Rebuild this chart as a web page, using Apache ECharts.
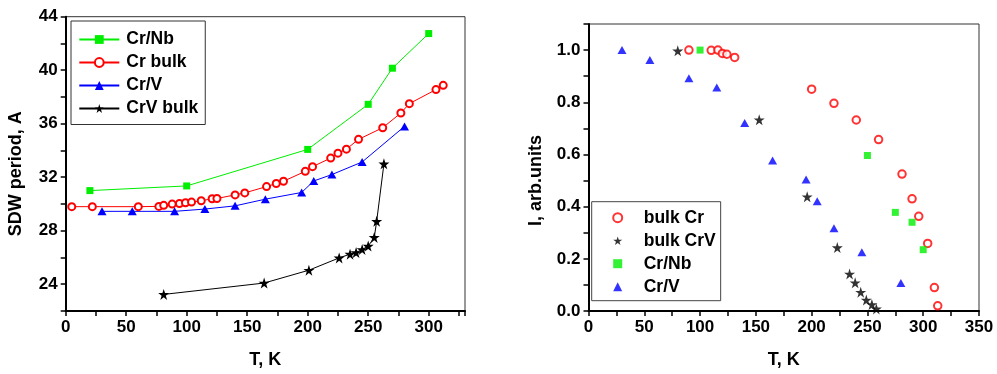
<!DOCTYPE html>
<html>
<head>
<meta charset="utf-8">
<script src="https://cdn.jsdelivr.net/npm/echarts@6/dist/echarts.min.js"></script>
<style>
  html, body { margin: 0; padding: 0; background: #fff; }
  #chart { width: 997px; height: 374px; }
</style>
</head>
<body>
<div id="chart"></div>
<script>
// left panel: SDW period (A) vs T (K)
const crNbPeriod = [[20, 31.0], [100, 31.35], [200, 34.08], [250, 37.45], [270, 40.15], [300, 42.74]];
const crBulkPeriod = [
  [5, 29.8], [22, 29.8], [60, 29.8], [77, 29.82], [81, 29.9], [88, 29.99], [94, 30.04],
  [99, 30.09], [104, 30.14], [112, 30.24], [121, 30.39], [125, 30.41], [140, 30.68],
  [148, 30.83], [166, 31.3], [174, 31.53], [180, 31.7], [198, 32.44], [204, 32.79],
  [219, 33.43], [225, 33.8], [232, 34.1], [242, 34.83], [262, 35.7], [277, 36.8],
  [284, 37.5], [306, 38.55], [312, 38.87]
];
const crVPeriod = [
  [30, 29.45], [55, 29.45], [90, 29.45], [115, 29.62], [140, 29.86], [165, 30.36],
  [195, 30.86], [205, 31.72], [220, 32.2], [245, 33.14], [280, 35.8]
];
const crVBulkPeriod = [
  [81, 23.24], [164, 24.09], [201, 25.05], [226, 25.97], [235, 26.25], [240, 26.37],
  [245, 26.6], [250, 26.85], [255, 27.5], [257, 28.7], [263, 33.0]
];

// right panel: intensity (arb. units) vs T (K)
const bulkCrInt = [
  [90, 1.0], [110, 0.999], [116, 1.0], [120, 0.987], [124, 0.984], [131, 0.972],
  [200, 0.85], [220, 0.796], [240, 0.732], [260, 0.657], [281, 0.525], [290, 0.43],
  [296, 0.363], [304, 0.259], [310, 0.09], [313, 0.02]
];
const bulkCrVInt = [
  [80, 0.997], [153, 0.733], [196, 0.438], [223, 0.243], [234, 0.142], [239, 0.108],
  [244, 0.072], [249, 0.042], [254, 0.025], [258, 0.008]
];
const crNbInt = [[100, 1.0], [250, 0.596], [275, 0.378], [290, 0.34], [300, 0.235]];
const crVInt = [
  [30, 1.0], [55, 0.962], [90, 0.892], [115, 0.857], [140, 0.721], [165, 0.577],
  [195, 0.504], [205, 0.421], [220, 0.317], [245, 0.225], [280, 0.107]
];

const STAR = 'path://M50,0L61.8,36.2L100,36.2L69.1,58.6L80.9,95.1L50,72.7L19.1,95.1L30.9,58.6L0,36.2L38.2,36.2Z';
const FONT = '"Liberation Sans", Arial, sans-serif';
const GREEN = '#00ee00', RED = '#ff0000', BLUE = '#0000ff', BLACK = '#000000';

const chart = echarts.init(document.getElementById('chart'));

function axis(gridIndex, min, max, interval, labelFn, extra) {
  return Object.assign({
    type: 'value',
    gridIndex: gridIndex,
    min: min,
    max: max,
    interval: interval,
    axisLine: { show: true, onZero: false, lineStyle: { color: '#000', width: 2 } },
    axisTick: { show: true, inside: false, length: 5, lineStyle: { color: '#000', width: 1.5 } },
    axisLabel: {
      color: '#000', fontSize: 17, fontWeight: 'bold', fontFamily: FONT, margin: 8,
      formatter: labelFn
    },
    splitLine: { show: false },
    nameLocation: 'middle',
    nameTextStyle: { color: '#000', fontSize: 18, fontWeight: 'bold', fontFamily: FONT }
  }, extra);
}

const every50 = v => (v % 50 === 0 ? String(v) : '');
const every4 = v => (v % 4 === 0 ? String(v) : '');
const everyFifth = v => (Math.round(v * 10) % 2 === 0 ? v.toFixed(1) : '');

const legendText = { color: '#000', fontSize: 17.5, fontWeight: 'bold', fontFamily: FONT };

function lineSeries(name, data, color, symbol, size) {
  return {
    name: name, type: 'line', xAxisIndex: 0, yAxisIndex: 0, data: data,
    symbol: symbol, symbolSize: size, showSymbol: true,
    lineStyle: { color: color, width: 1 },
    itemStyle: { color: color, borderColor: color, borderWidth: symbol === 'emptyCircle' ? 1 : 0 }
  };
}

function scatterSeries(name, data, color, symbol, size) {
  return {
    name: name, type: 'scatter', xAxisIndex: 1, yAxisIndex: 1, data: data,
    symbol: symbol, symbolSize: size,
    itemStyle: symbol === 'emptyCircle'
      ? { color: color, borderColor: color, borderWidth: 1 }
      : { color: color }
  };
}

const option = {
  animation: false,
  backgroundColor: '#fff',
  grid: [
    { left: 65.7, top: 16.7, right: 532, bottom: 61.7, show: true, borderColor: '#333', borderWidth: 1 },
    { left: 588.5, top: 24, right: 18, bottom: 60.7, show: true, borderColor: '#333', borderWidth: 1 }
  ],
  xAxis: [
    axis(0, 0, 330, 25, every50, { name: 'T, K', nameGap: 40 }),
    axis(1, 0, 350, 25, every50, { name: 'T, K', nameGap: 40 })
  ],
  yAxis: [
    axis(0, 22, 44, 2, every4, {
      name: 'SDW period, A', nameGap: 41,
      nameTextStyle: { color: '#000', fontSize: 18, fontWeight: 'bold', fontFamily: FONT, padding: [0, 20, 0, 0] }
    }),
    axis(1, 0, 1.1, 0.1, everyFifth, {
      name: 'I, arb.units', nameGap: 43,
      nameTextStyle: { color: '#000', fontSize: 18, fontWeight: 'bold', fontFamily: FONT, padding: [0, 26, 0, 0] }
    })
  ],
  legend: [
    {
      data: ['Cr/Nb', 'Cr bulk', 'Cr/V', 'CrV bulk'],
      orient: 'vertical', left: 71, top: 21,
      padding: [9.5, 7, 7, 7.3], itemGap: 5, itemWidth: 40, itemHeight: 11,
      borderColor: '#333', borderWidth: 1, selectedMode: false,
      textStyle: Object.assign({ padding: [0, 0, 0, 2] }, legendText)
    },
    {
      data: ['bulk Cr', 'bulk CrV', 'Cr/Nb#I', 'Cr/V#I'],
      orient: 'vertical', left: 591.7, top: 201.7,
      padding: [7, 5, 5, 20.5], itemGap: 5, itemWidth: 9, itemHeight: 9,
      borderColor: '#444', borderWidth: 1, selectedMode: false,
      formatter: n => n.split('#')[0],
      textStyle: Object.assign({ padding: [0, 0, 0, 16.5] }, legendText)
    }
  ],
  series: [
    lineSeries('Cr/Nb', crNbPeriod, GREEN, 'rect', 7),
    lineSeries('Cr bulk', crBulkPeriod, RED, 'emptyCircle', 7),
    lineSeries('Cr/V', crVPeriod, BLUE, 'triangle', [9, 8]),
    lineSeries('CrV bulk', crVBulkPeriod, BLACK, STAR, 11),
    scatterSeries('bulk Cr', bulkCrInt, RED, 'emptyCircle', 7.5),
    scatterSeries('bulk CrV', bulkCrVInt, BLACK, STAR, 11),
    scatterSeries('Cr/Nb#I', crNbInt, GREEN, 'rect', 7),
    scatterSeries('Cr/V#I', crVInt, BLUE, 'triangle', [9, 8])
  ]
};

chart.setOption(option);
</script>
</body>
</html>
